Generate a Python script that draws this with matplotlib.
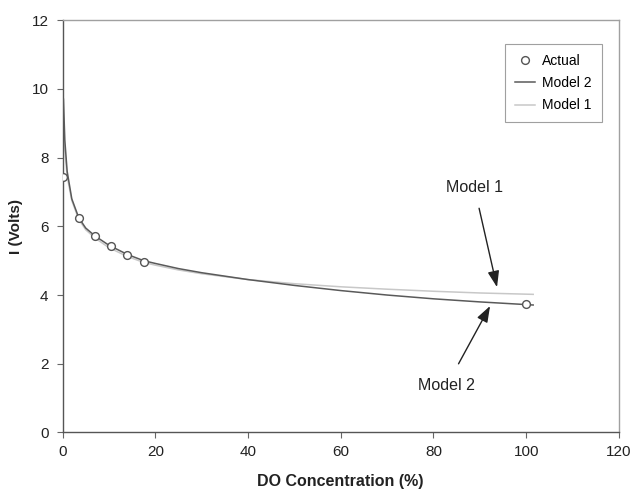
import matplotlib
matplotlib.use("Agg")
import matplotlib.pyplot as plt

plt.rcParams['font.family'] = ['Liberation Sans', 'DejaVu Sans']

# Measured data
actual_x = [0, 3.5, 7, 10.5, 14, 17.5, 100]
actual_y = [7.44, 6.25, 5.73, 5.43, 5.16, 4.97, 3.74]

# Model curves
model_x = [0.2, 0.5, 1, 2, 3.5, 5, 7, 10, 14, 17.5, 20, 25, 30, 40, 50, 60, 70, 80, 90, 101.5]
model2_y = [9.7, 8.5, 7.6, 6.8, 6.25, 5.95, 5.72, 5.45, 5.18, 5.0, 4.92, 4.77, 4.65, 4.45, 4.28, 4.13, 4.0, 3.89, 3.8, 3.71]
model1_y = [9.0, 8.2, 7.45, 6.75, 6.2, 5.9, 5.66, 5.38, 5.12, 4.95, 4.87, 4.73, 4.62, 4.45, 4.33, 4.24, 4.17, 4.11, 4.06, 4.02]

x_ticks = [0, 20, 40, 60, 80, 100, 120]
y_ticks = [0, 2, 4, 6, 8, 10, 12]

fig = plt.figure(figsize=(6.34, 4.92), dpi=100)
ax = fig.add_axes([0.0986, 0.121, 0.8777, 0.838])

ax.plot(actual_x, actual_y, linestyle='none', marker='o', markersize=5.6,
        markerfacecolor='white', markeredgecolor='#555555', markeredgewidth=1.0,
        label='Actual', zorder=4)
ax.plot(model_x, model2_y, color='#5a5a5a', linewidth=1.1, label='Model 2', zorder=3)
ax.plot(model_x, model1_y, color='#c8c8c8', linewidth=1.1, label='Model 1', zorder=2)

ax.set_xlim(0, 120)
ax.set_ylim(0, 12)
ax.set_xticks(x_ticks)
ax.set_yticks(y_ticks)
ax.tick_params(direction='out', length=4, width=0.8, color='#666666',
               labelsize=11, labelcolor='#222222')
ax.tick_params(axis='y', pad=6)
ax.tick_params(axis='x', pad=5)

for s in ['left', 'bottom']:
    ax.spines[s].set_color('#555555')
    ax.spines[s].set_linewidth(1.0)
for s in ['top', 'right']:
    ax.spines[s].set_color('#a0a0a0')
    ax.spines[s].set_linewidth(1.0)

ax.set_xlabel('DO Concentration (%)', fontsize=11.5, fontweight='bold', color='#222222', labelpad=11)
ax.set_ylabel('I (Volts)', fontsize=11, fontweight='bold', color='#222222', labelpad=6)

leg = ax.legend(loc='upper right', bbox_to_anchor=(0.969, 0.942), borderaxespad=0,
                fontsize=10, frameon=True, fancybox=False, edgecolor='#888888',
                handlelength=1.5, handletextpad=0.5, borderpad=0.7, labelspacing=0.6)
leg.get_frame().set_linewidth(0.8)

arrow_style = '-|>,head_length=0.7,head_width=0.25'
ax.annotate('Model 1', xy=(93.7, 4.23), xytext=(88.8, 7.14), ha='center', va='center',
            fontsize=11.5, color='#222222',
            arrowprops=dict(arrowstyle=arrow_style, color='#222222', lw=1.0,
                            mutation_scale=14, shrinkA=8, shrinkB=0))
ax.annotate('Model 2', xy=(92.2, 3.68), xytext=(82.9, 1.38), ha='center', va='center',
            fontsize=11.5, color='#222222',
            arrowprops=dict(arrowstyle=arrow_style, color='#222222', lw=1.0,
                            mutation_scale=14, shrinkA=9, shrinkB=0))

fig.savefig('out.png', dpi=100)
